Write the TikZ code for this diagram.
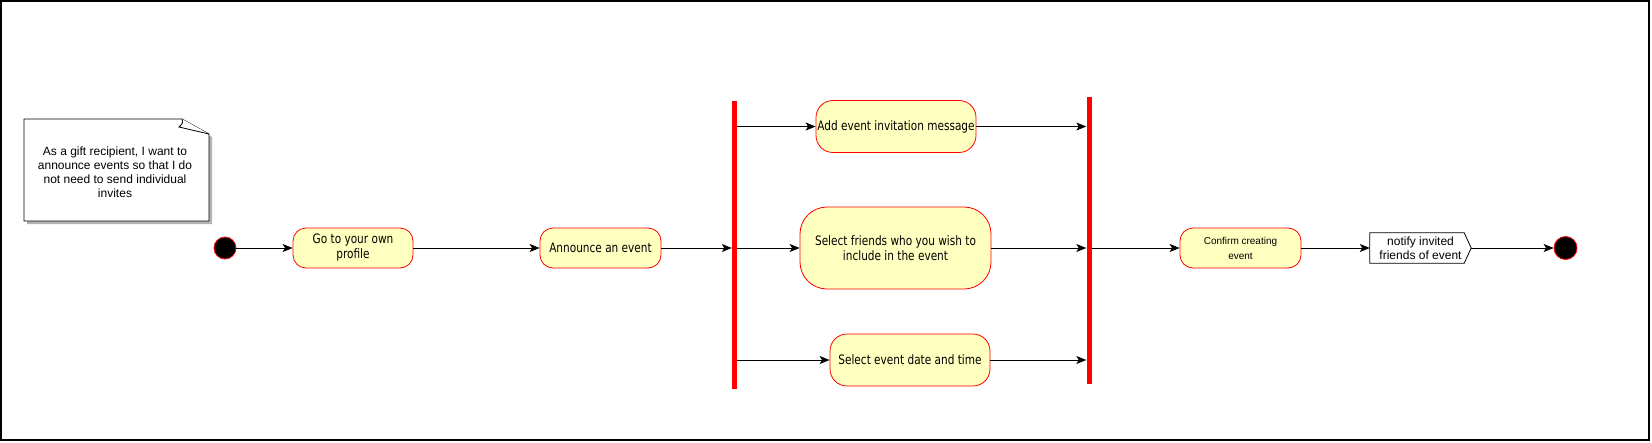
\documentclass[tikz,border=0pt]{standalone}
\usepackage{fontspec}
\setmainfont{Liberation Sans}
\newfontfamily\boxfont[FakeStretch=0.81]{DejaVu Sans}
\usetikzlibrary{arrows.meta}
\definecolor{actred}{HTML}{FF0000}
\definecolor{actfill}{HTML}{FFFFC0}
\definecolor{shadowgray}{HTML}{B3B3B3}
\begin{document}
\begin{tikzpicture}[x=1pt,y=-1pt,
  act/.style={draw=actred, fill=actfill, line width=0.8pt, align=center,
    font=\boxfont\fontsize{13}{15}\selectfont, inner sep=0pt},
  syncbar/.style={fill=actred, draw=none, minimum width=5pt, inner sep=0pt},
  dot/.style={circle, fill=black, draw=actred, line width=0.8pt, inner sep=0pt},
  flow/.style={draw=black, line width=0.8pt, -{Stealth[length=10pt,width=8pt,inset=2.5pt]}},
]
\useasboundingbox (0,0) rectangle (1652,442);
\draw[line width=1.5pt] (1,1) rectangle (1649,440);

% note with shadow
\fill[shadowgray] (27,122) -- (185,122) -- (212,137) -- (212,224) -- (27,224) -- cycle;
\draw[fill=white, line width=0.8pt] (24,119) -- (182,119) -- (209,134) -- (209,221) -- (24,221) -- cycle;
\draw[fill=white, line width=0.8pt] (182,119) .. controls (183,123) .. (179,127) -- (209,134);
\node[align=center, font=\fontsize{12}{14}\selectfont, inner sep=0pt] (note) at (115,172)
  {As a gift recipient, I want to\\announce events so that I do\\not need to send individual\\invites};

% nodes
\node[dot, minimum size=22pt] (start) at (225,248) {};
\node[act, minimum width=120pt, minimum height=40pt, rounded corners=13pt] (go) at (353,248) {Go to your own\\profile};
\node[act, minimum width=121pt, minimum height=40pt, rounded corners=13pt] (ann) at (600.5,248) {Announce an event};
\node[syncbar, minimum height=288pt] (lbar) at (734.5,245) {};
\node[act, minimum width=160pt, minimum height=52pt, rounded corners=17pt] (add) at (896,126.5) {Add event invitation message};
\node[act, minimum width=191pt, minimum height=82pt, rounded corners=27pt] (friends) at (895.5,248) {Select friends who you wish to\\include in the event};
\node[act, minimum width=160pt, minimum height=52pt, rounded corners=17pt] (date) at (910,360) {Select event date and time};
\node[syncbar, minimum height=287pt] (rbar) at (1089,240.5) {};
\node[act, minimum width=121pt, minimum height=40pt, rounded corners=13pt,
  font=\fontsize{10}{15}\selectfont] (confirm) at (1240.5,248) {Confirm creating\\event};
\node[minimum width=101pt, minimum height=30pt, inner sep=0pt, align=center,
  font=\fontsize{12}{14}\selectfont] (notify) at (1420.5,248) {notify invited\\friends of event};
\draw[line width=0.8pt] (notify.north west) -- ([xshift=-7pt]notify.north east) -- (notify.east)
  -- ([xshift=-7pt]notify.south east) -- (notify.south west) -- cycle;
\node[dot, minimum size=23pt] (end) at (1565.5,248) {};

% connectors
\draw[flow] (start) -- (go);
\draw[flow] (go) -- (ann);
\draw[flow] (ann.east) -- (ann.east -| lbar.west);
\draw[flow] (add.west -| lbar.east) -- (add.west);
\draw[flow] (friends.west -| lbar.east) -- (friends.west);
\draw[flow] (date.west -| lbar.east) -- (date.west);
\draw[flow] (add.east) -- (add.east -| rbar.west);
\draw[flow] (friends.east) -- (friends.east -| rbar.west);
\draw[flow] (date.east) -- (date.east -| rbar.west);
\draw[flow] (confirm.west -| rbar.east) -- (confirm.west);
\draw[flow] (confirm) -- (notify);
\draw[flow] (notify.east) -- (end);
\end{tikzpicture}
\end{document}
